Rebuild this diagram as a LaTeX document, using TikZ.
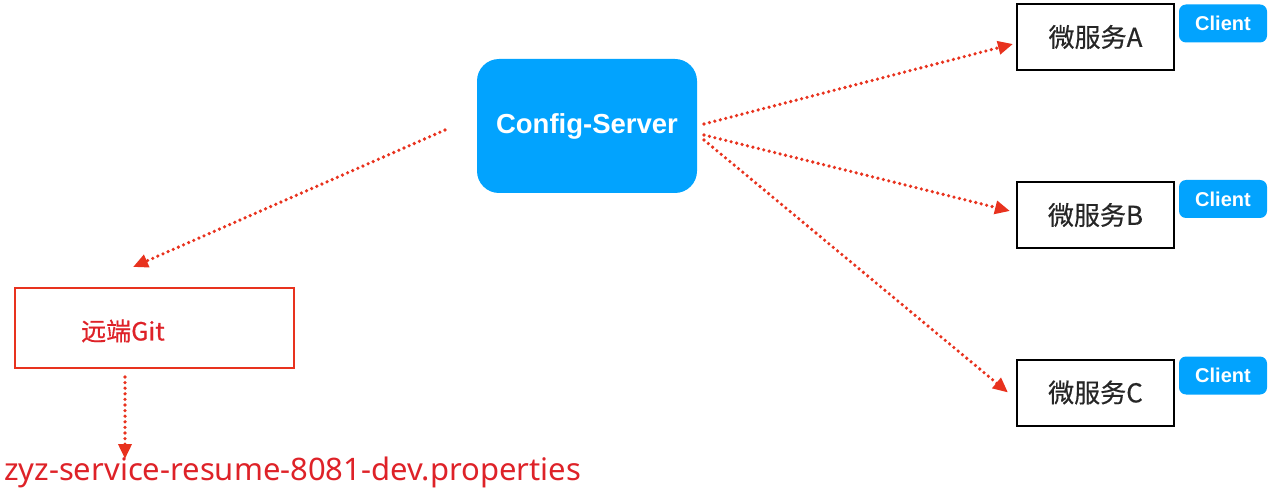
\documentclass[tikz,border=0pt]{standalone}
\usepackage{fontspec}
\setmainfont{Liberation Sans}
\newfontfamily\cjk{Noto Sans CJK SC}[FakeBold=0.5]
\newfontfamily\notos{Noto Sans}
\usetikzlibrary{arrows.meta}
\definecolor{cblue}{RGB}{2,163,254}
\definecolor{ared}{RGB}{232,50,30}
\definecolor{tred}{RGB}{222,34,40}
\begin{document}
\begin{tikzpicture}[x=1pt,y=-1pt,
  svc/.style={draw=black,line width=2pt,minimum width=157pt,minimum height=66pt,inner sep=0pt,font=\cjk\fontsize{26}{26}\selectfont,text=black!85},
  cli/.style={fill=cblue,rounded corners=7pt,minimum width=88pt,minimum height=38pt,inner sep=0pt,text=white,font=\bfseries\fontsize{20}{20}\selectfont},
  arr/.style={draw=ared,line width=3.6pt,dash pattern=on 0pt off 5.6pt,line cap=round,-{Triangle[length=15pt,width=13pt,line cap=butt]}}
]
\useasboundingbox (0,0) rectangle (1278,497);
\node[fill=cblue,rounded corners=22pt,minimum width=220pt,minimum height=134pt,inner sep=0pt,text=white,font=\bfseries\fontsize{27.5}{27.5}\selectfont] (cs) at (587,126) {Config-Server};
\node[svc] (a) at (1095.5,37) {微服务A};
\node[svc] (b) at (1095.5,215) {微服务B};
\node[svc] (c) at (1095.5,392.5) {微服务C};
\node[cli] (ca) at (1223,23.5) {Client};
\node[cli] (cb) at (1223,199) {Client};
\node[cli] (cc) at (1223,375.5) {Client};
\node[draw=ared,line width=2.2pt,minimum width=279pt,minimum height=80pt,inner sep=0pt] (git) at (154.5,328) {};
\node[font=\cjk\fontsize{25}{25}\selectfont,text=tred,anchor=west,inner sep=0pt] (gitl) at (81,331) {远端Git};
\node[font=\notos\fontsize{31}{31}\selectfont,text=tred,anchor=west,inner sep=0pt] (prop) at (4,472) {zyz-service-resume-8081-dev.properties};
\coordinate (s0) at (445,130);
\coordinate (e0) at (133,267);
\coordinate (s1) at (704,124);
\coordinate (s2) at (704,135);
\coordinate (s3) at (704,140);
\coordinate (g0) at (125,377);
\coordinate (g1) at (125,459);
\draw[arr] (s0) -- (e0);
\draw[arr] (s1) -- ([xshift=-3pt,yshift=-7pt]a.west);
\draw[arr] (s2) -- ([xshift=-6pt,yshift=4pt]b.west);
\draw[arr] (s3) -- ([xshift=-8pt]c.west);
\draw[arr] (g0) -- (g1);
\end{tikzpicture}
\end{document}
